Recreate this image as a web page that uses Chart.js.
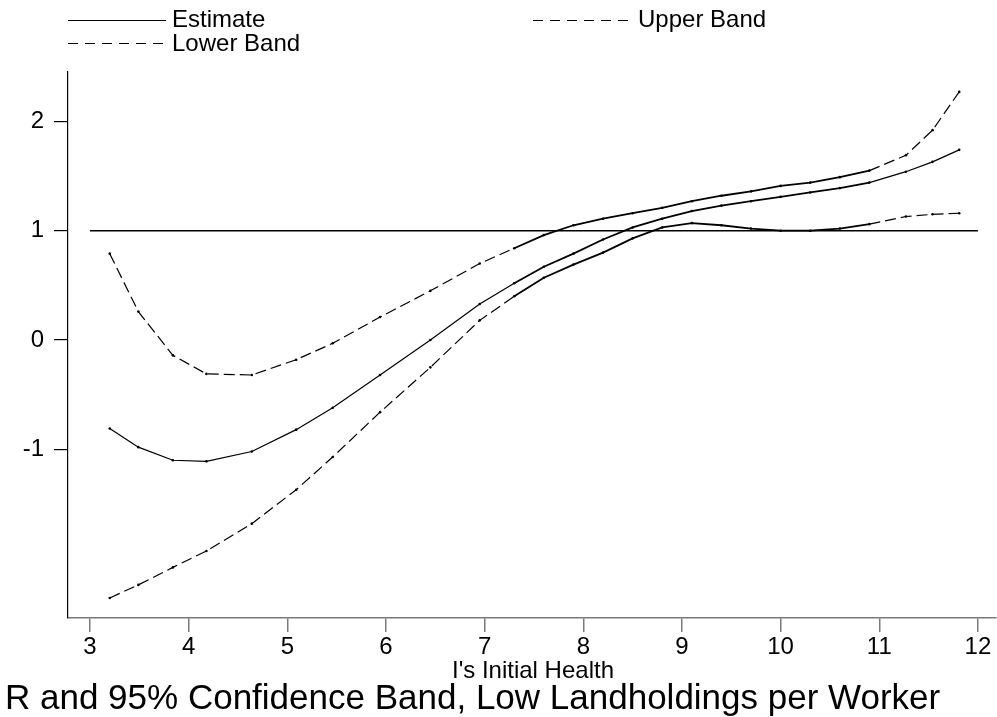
<!DOCTYPE html>
<html>
<head>
<meta charset="utf-8">
<script src="https://cdn.jsdelivr.net/npm/chart.js@4"></script>
<style>
  html, body { margin: 0; padding: 0; background: #fff; }
  #wrap { position: relative; width: 997px; height: 717px; }
</style>
</head>
<body>
<div id="wrap"><canvas id="c" width="997" height="717"></canvas></div>
<script>
// ---- Data ----
const healthX = [3.2, 3.49, 3.84, 4.18, 4.64, 5.09, 5.46, 5.94, 6.45, 6.95, 7.3, 7.6, 7.9, 8.2, 8.5, 8.8, 9.1, 9.4, 9.7, 10.0, 10.3, 10.6, 10.9, 11.27, 11.54, 11.81];
const estimate = [-0.81, -0.98, -1.10, -1.11, -1.02, -0.82, -0.62, -0.32, 0.0, 0.33, 0.52, 0.67, 0.79, 0.92, 1.03, 1.11, 1.18, 1.23, 1.27, 1.31, 1.35, 1.39, 1.44, 1.54, 1.63, 1.74];
const upperBand = [0.79, 0.26, -0.14, -0.31, -0.32, -0.18, -0.03, 0.21, 0.45, 0.70, 0.84, 0.96, 1.05, 1.11, 1.16, 1.21, 1.27, 1.32, 1.36, 1.41, 1.44, 1.49, 1.55, 1.69, 1.92, 2.27];
const lowerBand = [-2.36, -2.24, -2.08, -1.93, -1.68, -1.37, -1.07, -0.66, -0.25, 0.18, 0.40, 0.57, 0.69, 0.80, 0.93, 1.03, 1.07, 1.05, 1.02, 1.00, 1.00, 1.02, 1.06, 1.13, 1.15, 1.16];
const refLineX = [3, 12];
const refLineY = [1, 1];
const xTicks = [3, 4, 5, 6, 7, 8, 9, 10, 11, 12];
const yTicks = [-1, 0, 1, 2];
const seriesNames = ['Estimate', 'Upper Band', 'Lower Band'];
const xTitle = "I's Initial Health";
const bottomTitle = 'R and 95% Confidence Band, Low Landholdings per Worker';

const FONT = '"Liberation Sans", Arial, sans-serif';
const DASH = [11, 5];

function pts(xs, ys) { return xs.map((x, i) => ({ x: x, y: ys[i] })); }

function inDense(ctx) {
  const a = ctx.p0.parsed.x, b = ctx.p1.parsed.x;
  return a >= 7.3 && b <= 10.9;
}
function bandSegDash(ctx) { return inDense(ctx) ? [] : DASH; }
function segWidth(ctx) { return inDense(ctx) ? 1.8 : 1.2; }

const textPlugin = {
  id: 'textPlugin',
  afterDraw(chart) {
    const ctx = chart.ctx;
    ctx.save();
    ctx.strokeStyle = '#000';
    ctx.lineWidth = 1;
    const drawSample = (x0, x1, y, dash) => {
      ctx.beginPath();
      ctx.setLineDash(dash);
      ctx.moveTo(x0, y + 0.5);
      ctx.lineTo(x1, y + 0.5);
      ctx.stroke();
    };
    drawSample(68, 166, 20, []);
    drawSample(533, 632, 20, [10, 7]);
    drawSample(68, 166, 43, [10, 7]);
    ctx.setLineDash([]);
    ctx.fillStyle = '#000';
    ctx.textBaseline = 'alphabetic';
    ctx.textAlign = 'left';
    ctx.font = '24px ' + FONT;
    ctx.fillText(seriesNames[0], 172, 27);
    ctx.fillText(seriesNames[1], 638, 27);
    ctx.fillText(seriesNames[2], 172, 51);
    ctx.textAlign = 'center';
    ctx.fillText(xTitle, 533, 678);
    ctx.textAlign = 'left';
    ctx.font = '35px ' + FONT;
    ctx.fillText(bottomTitle, 5, 709);
    ctx.restore();
  }
};

const lineBase = {
  borderColor: '#000',
  borderWidth: 1.2,
  pointRadius: 1.3,
  pointBackgroundColor: '#000',
  pointBorderWidth: 0,
  pointHoverRadius: 0,
  tension: 0,
  fill: false
};

new Chart(document.getElementById('c'), {
  type: 'line',
  data: {
    datasets: [
      Object.assign({}, lineBase, { label: seriesNames[0], data: pts(healthX, estimate), segment: { borderWidth: segWidth } }),
      Object.assign({}, lineBase, { label: seriesNames[1], data: pts(healthX, upperBand), borderDash: DASH, segment: { borderDash: bandSegDash, borderWidth: segWidth } }),
      Object.assign({}, lineBase, { label: seriesNames[2], data: pts(healthX, lowerBand), borderDash: DASH, segment: { borderDash: bandSegDash, borderWidth: segWidth } }),
      { label: 'ref', data: pts(refLineX, refLineY), borderColor: '#000', borderWidth: 1.5, pointRadius: 0, tension: 0, fill: false }
    ]
  },
  options: {
    responsive: false,
    animation: false,
    events: [],
    layout: { padding: { top: 72, left: 0, right: 0, bottom: 0 } },
    plugins: { legend: { display: false }, title: { display: false }, tooltip: { enabled: false } },
    scales: {
      x: {
        type: 'linear',
        min: 2.777,
        max: 12.18,
        afterFit(s) { s.height = 99; },
        afterBuildTicks(s) { s.ticks = xTicks.map(v => ({ value: v })); },
        border: { display: true, color: '#7a7a7a', width: 1.5 },
        grid: { display: true, drawOnChartArea: false, drawTicks: true, tickLength: 14, color: '#7a7a7a', lineWidth: 1.5 },
        ticks: { color: '#000', font: { family: FONT, size: 24 }, padding: 1, maxRotation: 0, autoSkip: false }
      },
      y: {
        type: 'linear',
        min: -2.543,
        max: 2.452,
        afterFit(s) { s.width = 68; },
        afterBuildTicks(s) { s.ticks = yTicks.map(v => ({ value: v })); },
        border: { display: true, color: '#000', width: 1.2 },
        grid: { display: true, drawOnChartArea: false, drawTicks: true, tickLength: 14, color: '#000', lineWidth: 1.2 },
        ticks: { color: '#000', font: { family: FONT, size: 24 }, padding: 10, autoSkip: false }
      }
    }
  },
  plugins: [textPlugin]
});
</script>
</body>
</html>
